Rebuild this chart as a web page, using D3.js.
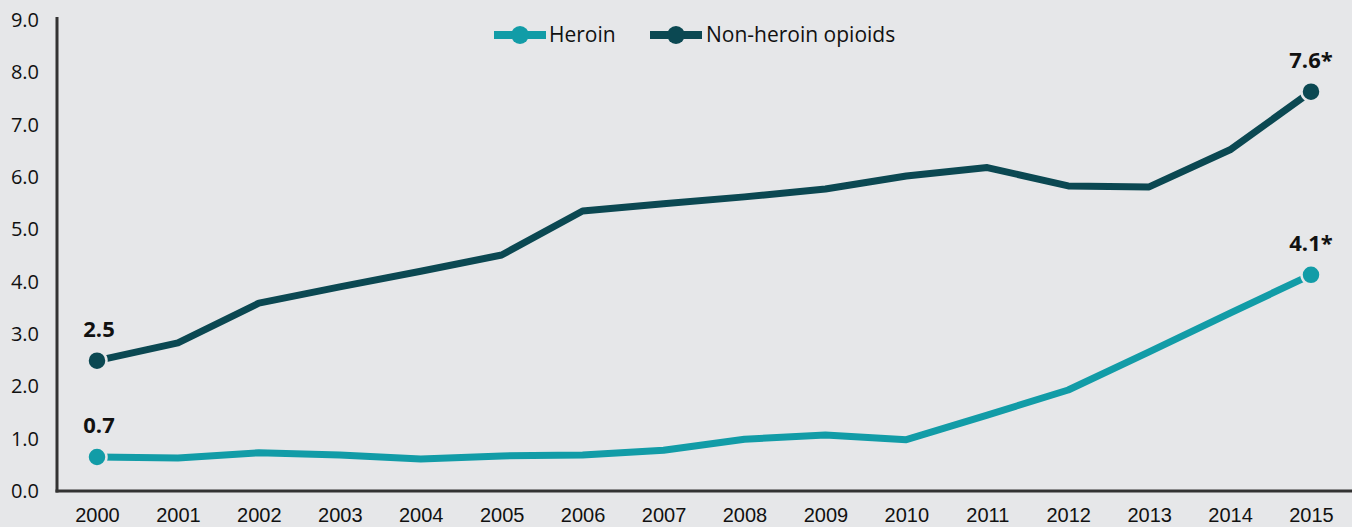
<!DOCTYPE html>
<html><head><meta charset="utf-8">
<script src="https://cdn.jsdelivr.net/npm/d3@7"></script>
<style>
html,body{margin:0;padding:0;background:#e6e7e9;}
svg{display:block;font-family:"Open Sans","Noto Sans",sans-serif;}
</style></head>
<body><svg id="c" width="1352" height="527"></svg>
<script>
const years = [2000,2001,2002,2003,2004,2005,2006,2007,2008,2009,2010,2011,2012,2013,2014,2015];
const heroin = [0.65,0.63,0.73,0.69,0.61,0.67,0.69,0.78,0.99,1.07,0.98,1.45,1.93,2.66,3.4,4.13];
const nonHeroin = [2.49,2.83,3.59,3.9,4.2,4.51,5.35,5.49,5.62,5.77,6.02,6.18,5.83,5.81,6.52,7.63];
const yTicks = [0,1,2,3,4,5,6,7,8,9];
const endLabels = {heroin:["0.7","4.1*"], nonHeroin:["2.5","7.6*"]};
const seriesNames = ["Heroin","Non-heroin opioids"];
const colors = ["#129ca7","#0b4852"];

const svg = d3.select("#c");
const bg = "#e6e7e9";
const x = d3.scalePoint().domain(years).range([97,1311]);
const y = d3.scaleLinear().domain([0,9]).range([491,20]);

// y axis
const ya = svg.append("g").attr("transform","translate(57,0)")
  .call(d3.axisLeft(y).tickValues(yTicks).tickSize(0).tickFormat(d3.format(".1f")));
ya.select(".domain").remove();
ya.selectAll("text").attr("x",-18).attr("font-size",20).attr("fill","#111").style("font-family","'Open Sans',sans-serif");
svg.append("line").attr("x1",57).attr("x2",57).attr("y1",17).attr("y2",492.5).attr("stroke","#333").attr("stroke-width",3);

// x axis
const xa = svg.append("g").attr("transform","translate(0,491)")
  .call(d3.axisBottom(x).tickSize(0).tickFormat(d=>String(d)));
xa.select(".domain").remove();
xa.selectAll("text").attr("y",17).attr("dy","0.71em").attr("font-size",20).attr("fill","#111");
svg.append("line").attr("x1",55.5).attr("x2",1352).attr("y1",491).attr("y2",491).attr("stroke","#333").attr("stroke-width",3);

const line = d3.line().x((d,i)=>x(years[i])).y(d=>y(d));
const data = [heroin, nonHeroin];
const labs = [endLabels.heroin, endLabels.nonHeroin];
data.forEach((s,k)=>{
  svg.append("path").attr("d",line(s)).attr("fill","none").attr("stroke",colors[k]).attr("stroke-width",7).attr("stroke-linejoin","round");
  [0,s.length-1].forEach((i,j)=>{
    svg.append("circle").attr("cx",x(years[i])).attr("cy",y(s[i])).attr("r",9.5)
      .attr("fill",colors[k]).attr("stroke",bg).attr("stroke-width",2.5);
    svg.append("text").attr("x",x(years[i])+(j?0:2)).attr("y",y(s[i])-24)
      .attr("text-anchor","middle").attr("font-size",22).attr("font-weight","bold").attr("fill","#111")
      .text(labs[k][j]);
  });
});

// legend
const leg = [{x0:494,t:549},{x0:650,t:706}];
leg.forEach((l,k)=>{
  const g = svg.append("g");
  g.append("rect").attr("x",l.x0).attr("y",31).attr("width",18).attr("height",8).attr("fill",colors[k]);
  g.append("rect").attr("x",l.x0+34).attr("y",31).attr("width",18).attr("height",8).attr("fill",colors[k]);
  g.append("circle").attr("cx",l.x0+26).attr("cy",35).attr("r",9).attr("fill",colors[k]);
  g.append("text").attr("x",l.t).attr("y",35).attr("dy","0.35em").attr("font-size",21).attr("fill","#111").text(seriesNames[k]);
});
</script></body></html>
